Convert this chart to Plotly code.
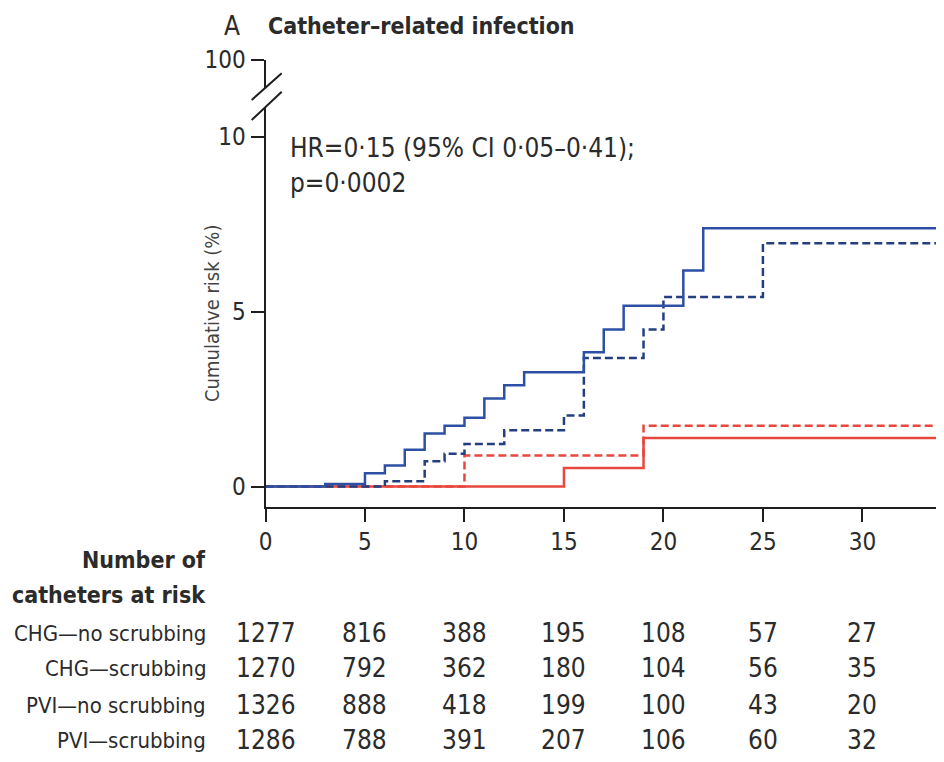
import plotly.graph_objects as go

W, H = 944, 762
OX, OY = 8, 8  # page body margin offset compensation

# ---- data ----
# cumulative risk (%) step curves: event times (days) and levels
blue_solid_t = [0, 3, 5, 6, 7, 8, 9, 10, 11, 12, 13, 16, 17, 18, 21, 22, 33.9]
blue_solid_y = [0, 0.07, 0.38, 0.6, 1.05, 1.52, 1.74, 1.97, 2.52, 2.9, 3.27, 3.84, 4.49, 5.17, 6.18, 7.39, 7.39]

blue_dash_t = [0, 6, 8, 9, 10, 12, 15, 16, 19, 20, 25, 33.75]
blue_dash_y = [0, 0.15, 0.72, 0.94, 1.22, 1.61, 2.03, 3.68, 4.49, 5.42, 6.96, 6.96]

red_dash_t = [0, 10, 19, 33.75]
red_dash_y = [0, 0.89, 1.74, 1.74]

red_solid_t = [0, 15, 19, 33.9]
red_solid_y = [0, 0.53, 1.39, 1.39]

x_ticks = [0, 5, 10, 15, 20, 25, 30]
y_ticks = [0, 5, 10]
y_top_tick = [100]

risk_times = [0, 5, 10, 15, 20, 25, 30]
risk_groups = ["CHG—no scrubbing", "CHG—scrubbing", "PVI—no scrubbing", "PVI—scrubbing"]
risk_chg_no = [1277, 816, 388, 195, 108, 57, 27]
risk_chg_sc = [1270, 792, 362, 180, 104, 56, 35]
risk_pvi_no = [1326, 888, 418, 199, 100, 43, 20]
risk_pvi_sc = [1286, 788, 391, 207, 106, 60, 32]
risk_rows = [risk_chg_no, risk_chg_sc, risk_pvi_no, risk_pvi_sc]

# ---- styling ----
NARROW = "Liberation Sans Narrow, DejaVu Sans Condensed, Arial Narrow, sans-serif"
TXT = "#2b2b2b"
BLUE = "#2d50a5"
BLUE_D = "#243f80"
RED = "#e8473d"
AX = "#1e1e1e"

def px(xp):
    return (xp - OX) / W

def py(yp):
    return 1 - (yp - OY) / H

fig = go.Figure()

fig.add_trace(go.Scatter(x=red_solid_t, y=red_solid_y, mode="lines", line=dict(color=RED, width=2.5, shape="hv"), showlegend=False))
fig.add_trace(go.Scatter(x=red_dash_t, y=red_dash_y, mode="lines", line=dict(color=RED, width=2.5, shape="hv", dash="8px,4px"), showlegend=False))
fig.add_trace(go.Scatter(x=blue_dash_t, y=blue_dash_y, mode="lines", line=dict(color=BLUE_D, width=2.5, shape="hv", dash="8px,4px"), showlegend=False))
fig.add_trace(go.Scatter(x=blue_solid_t, y=blue_solid_y, mode="lines", line=dict(color=BLUE, width=2.5, shape="hv"), showlegend=False))
# invisible trace so the upper (broken) axis segment exists
fig.add_trace(go.Scatter(x=[0], y=[95], yaxis="y2", mode="markers", marker=dict(opacity=0), showlegend=False, hoverinfo="skip"))

x0, x1 = 265.5, 940
common = dict(ticks="outside", ticklen=13, tickwidth=2, tickcolor=AX, automargin=False,
              showline=True, linecolor=AX, linewidth=2, showgrid=False, zeroline=False,
              tickfont=dict(family=NARROW, size=24, color=TXT))
fig.update_layout(
    template="none",
    width=W, height=H,
    margin=dict(l=0, r=0, t=0, b=0, pad=0, autoexpand=False),
    paper_bgcolor="white", plot_bgcolor="white",
    xaxis=dict(domain=[px(x0), px(x1)], range=[0, 33.9], anchor="y", tickvals=x_ticks, **common),
    yaxis=dict(domain=[py(506.5), py(107)], range=[-0.572, 10.86], anchor="x", tickvals=y_ticks, **common),
    yaxis2=dict(domain=[py(88), py(60)], range=[90, 100], anchor="x", tickvals=y_top_tick, **common),
)

# axis break slashes
for (a, b, c, d) in [(251.7, 100, 281.7, 73.3), (251.7, 120, 281.7, 91.7)]:
    fig.add_shape(type="line", xref="paper", yref="paper", x0=px(a), y0=py(b), x1=px(c), y1=py(d),
                  line=dict(color=AX, width=2))

ann = []
ann.append(dict(text="A", x=px(222), y=py(26), xanchor="left", yanchor="middle",
                font=dict(family=NARROW, size=26, color=TXT)))
ann.append(dict(text="<b>Catheter–related infection</b>", x=px(266), y=py(26), xanchor="left", yanchor="middle",
                font=dict(family=NARROW, size=23, color=TXT)))
ann.append(dict(text="HR=0·15 (95% CI 0·05–0·41);", x=px(288), y=py(148), xanchor="left", yanchor="middle",
                font=dict(family=NARROW, size=26, color=TXT)))
ann.append(dict(text="p=0·0002", x=px(288), y=py(183), xanchor="left", yanchor="middle",
                font=dict(family=NARROW, size=26, color=TXT)))
ann.append(dict(text="Cumulative risk (%)", x=px(212), y=py(314), xanchor="center", yanchor="middle",
                textangle=-90, font=dict(family=NARROW, size=20, color="#444")))
ann.append(dict(text="<b>Number of</b>", x=px(208), y=py(560), xanchor="right", yanchor="middle",
                font=dict(family=NARROW, size=23, color=TXT)))
ann.append(dict(text="<b>catheters at risk</b>", x=px(208), y=py(595), xanchor="right", yanchor="middle",
                font=dict(family=NARROW, size=23, color=TXT)))

row_y = [633, 668, 705, 740]
for name, vals, ry in zip(risk_groups, risk_rows, row_y):
    ann.append(dict(text=name, x=px(208), y=py(ry), xanchor="right", yanchor="middle",
                    font=dict(family=NARROW, size=22, color=TXT)))
    for t, v in zip(risk_times, vals):
        ann.append(dict(text=str(v), x=t, xref="x", y=py(ry), xanchor="center", yanchor="middle",
                        font=dict(family=NARROW, size=26, color=TXT)))

for a in ann:
    a.setdefault("xref", "paper")
    a.setdefault("yref", "paper")
    a["showarrow"] = False
fig.update_layout(annotations=ann)

fig.write_html("out.html")
